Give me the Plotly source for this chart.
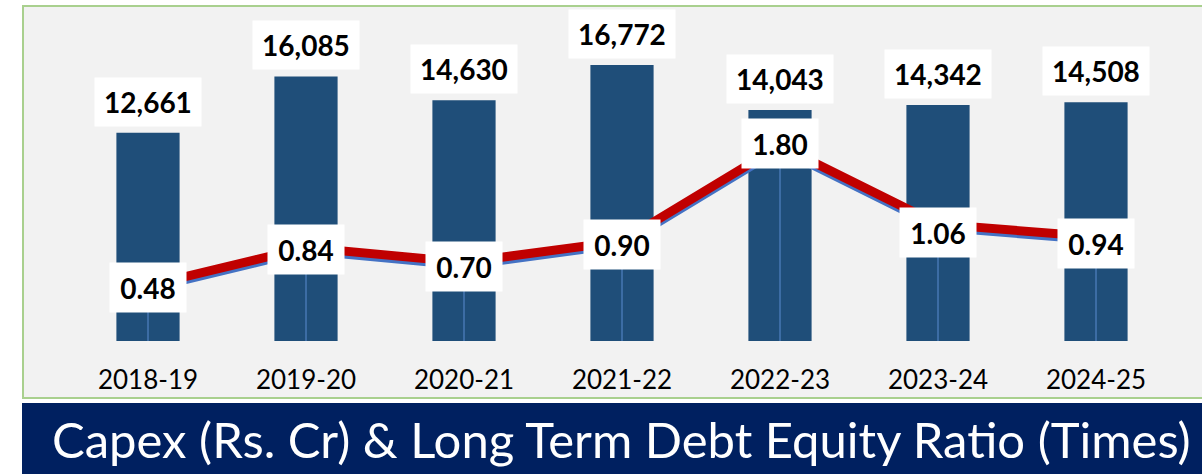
import plotly.graph_objects as go

years = ["2018-19", "2019-20", "2020-21", "2021-22", "2022-23", "2023-24", "2024-25"]
capex = [12661, 16085, 14630, 16772, 14043, 14342, 14508]
de_ratio = [0.48, 0.84, 0.70, 0.90, 1.80, 1.06, 0.94]
title_text = "Capex (Rs. Cr) & Long Term Debt Equity Ratio (Times)"

# style: small vertical nudges (px) of the ratio labels, as placed in the original
ratio_label_nudge = [-2, -2, -4, -3, 2, -8, -7]

FONT = "Lato"

# secondary axis range (ratio)
Y2MIN, Y2MAX = -0.0425, 3.061

fig = go.Figure()

fig.add_trace(go.Bar(
    x=years, y=capex, marker=dict(color="#1F4E79", line=dict(width=0)),
    width=0.4, hoverinfo="skip", showlegend=False,
))

# blue shadow of the line (drawn slightly lower via shifted axis)
shift = 3 / 106.0
fig.add_trace(go.Scatter(
    x=years, y=de_ratio, yaxis="y2", mode="lines",
    line=dict(color="#4472C4", width=9), showlegend=False, hoverinfo="skip",
))

# red line on top, with drop lines
fig.add_trace(go.Scatter(
    x=years, y=de_ratio, yaxis="y3", mode="lines",
    line=dict(color="#C00000", width=9), showlegend=False, hoverinfo="skip",
    error_y=dict(type="data", symmetric=False, array=[0] * len(de_ratio),
                 arrayminus=[v - Y2MIN for v in de_ratio], width=0,
                 thickness=1, color="#5B8BD0"),
))

annotations = []
for x, v in zip(years, capex):
    annotations.append(dict(
        x=x, y=v, xref="x", yref="y", text=f"<b>{v:,}</b>", showarrow=False,
        yshift=31, bgcolor="white", width=104, height=46,
        font=dict(family=FONT, size=28, color="black"),
    ))
for x, v, n in zip(years, de_ratio, ratio_label_nudge):
    annotations.append(dict(
        x=x, y=v, xref="x", yref="y3", text=f"<b>{v:.2f}</b>", showarrow=False,
        yshift=n, bgcolor="white", width=74, height=47,
        font=dict(family=FONT, size=28, color="black"),
    ))

# geometry (pixels -> paper)
W, H = 1202, 474
L, R, T, B = 69, 27, 12, 133
pw, ph = W - L - R, H - T - B
def px(x):
    return (x - L) / pw
def py(y):
    return (H - B - y) / ph

annotations.append(dict(
    x=px(621), y=py(439), xref="paper", yref="paper", text=title_text,
    showarrow=False, xanchor="center", yanchor="middle",
    font=dict(family=FONT, size=49, color="white"),
))

shapes = [
    dict(type="rect", xref="paper", yref="paper", x0=px(23), x1=px(1210),
         y0=py(398), y1=py(6), fillcolor="#F2F2F2",
         line=dict(color="#A9D08E", width=2), layer="below"),
    dict(type="rect", xref="paper", yref="paper", x0=px(22), x1=px(1210),
         y0=py(476), y1=py(403), fillcolor="#002060",
         line=dict(width=0), layer="below"),
]

fig.update_layout(
    width=W, height=H, margin=dict(l=L, r=R, t=T, b=B),
    paper_bgcolor="white", plot_bgcolor="rgba(0,0,0,0)",
    xaxis=dict(showgrid=False, showline=False, ticks="", zeroline=False,
               tickfont=dict(family=FONT, size=26, color="black"),
               ticklabelstandoff=21),
    yaxis=dict(range=[0, 20000], visible=False, showgrid=False),
    yaxis2=dict(range=[Y2MIN + shift, Y2MAX + shift], overlaying="y", visible=False, showgrid=False),
    yaxis3=dict(range=[Y2MIN, Y2MAX], overlaying="y", visible=False, showgrid=False),
    annotations=annotations, shapes=shapes, bargap=0.6, showlegend=False,
)

fig.write_html("out.html", config={"displayModeBar": False},
               post_script="document.body.style.margin='0';document.body.style.overflow='hidden';")
